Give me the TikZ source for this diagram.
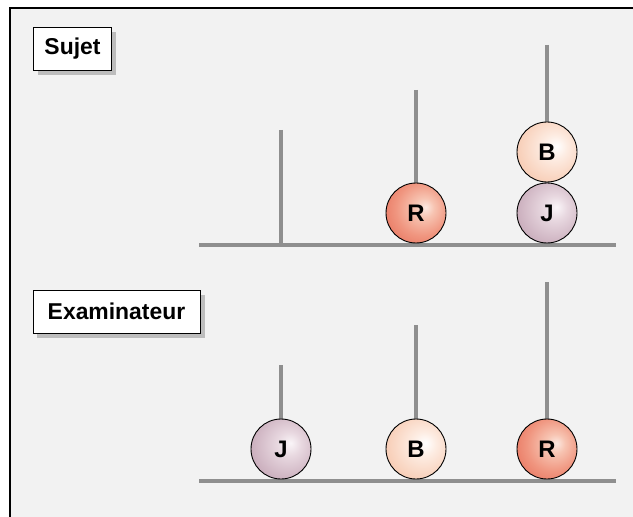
\documentclass[tikz,border=0pt]{standalone}
\usepackage{fontspec}
\setmainfont{Liberation Sans}
\usetikzlibrary{shadows}

\definecolor{panel}{HTML}{F2F2F2}
\definecolor{rodgray}{HTML}{8F8F8F}
\definecolor{shadowgray}{HTML}{BDBDBD}

% radial shadings for the three balls (highlight slightly up and right)
\pgfdeclareradialshading{ballred}{\pgfpoint{8bp}{5bp}}{%
  color(0bp)=(rgb,255:red,252;green,232;blue,224);
  color(8bp)=(rgb,255:red,247;green,196;blue,178);
  color(22bp)=(rgb,255:red,240;green,150;blue,128);
  color(38bp)=(rgb,255:red,230;green,108;blue,86);
  color(52bp)=(rgb,255:red,216;green,78;blue,58);
  color(64bp)=(rgb,255:red,208;green,70;blue,52)}
\pgfdeclareradialshading{ballbeige}{\pgfpoint{8bp}{5bp}}{%
  color(0bp)=(white);
  color(10bp)=(rgb,255:red,253;green,236;blue,226);
  color(28bp)=(rgb,255:red,248;green,208;blue,186);
  color(46bp)=(rgb,255:red,243;green,184;blue,154);
  color(64bp)=(rgb,255:red,236;green,168;blue,136)}
\pgfdeclareradialshading{ballmauve}{\pgfpoint{8bp}{5bp}}{%
  color(0bp)=(rgb,255:red,250;green,245;blue,248);
  color(10bp)=(rgb,255:red,232;green,216;blue,224);
  color(28bp)=(rgb,255:red,205;green,178;blue,192);
  color(46bp)=(rgb,255:red,176;green,142;blue,160);
  color(64bp)=(rgb,255:red,160;green,124;blue,144)}

\tikzset{
  rod/.style={draw=rodgray, line width=4bp},
  ball/.style={circle, draw=black, line width=0.9bp, minimum size=60bp,
    inner sep=0pt, font=\bfseries\fontsize{24}{26}\selectfont},
  red ball/.style={ball, shading=ballred},
  beige ball/.style={ball, shading=ballbeige},
  mauve ball/.style={ball, shading=ballmauve},
  tag/.style={draw=black, fill=white, line width=0.9bp, inner sep=0pt,
    minimum height=43bp, font=\bfseries\fontsize{23}{25}\selectfont,
    drop shadow={shadow xshift=4.5bp, shadow yshift=-4.5bp,
      fill=shadowgray, opacity=1}}
}

\begin{document}
\begin{tikzpicture}[x=1bp, y=-1bp]
  \useasboundingbox (0,0) rectangle (633,517);

  % panel
  \fill[panel] (10,8) rectangle (640,525);
  \draw[black, line width=1.3bp] (10,525) -- (10,8) -- (640,8);

  % labels
  \node[tag, minimum width=78bp] (sujet) at (72.5,49) {Sujet};
  \node[tag, minimum width=167bp] (exam) at (116.5,311.5) {Examinateur};

  % upper stand
  \coordinate (baseL1) at (199,245);
  \coordinate (baseR1) at (616,245);
  \coordinate (topA1) at (281,130);
  \coordinate (topB1) at (416,90);
  \coordinate (topC1) at (547,45);
  \draw[rod] (baseL1) -- (baseR1);
  \draw[rod] (topA1) -- (topA1 |- baseL1);
  \draw[rod] (topB1) -- (topB1 |- baseL1);
  \draw[rod] (topC1) -- (topC1 |- baseL1);

  \node[red ball] (sR) at (416,213) {R};
  \node[mauve ball] (sJ) at (547,213) {J};
  \node[beige ball] (sB) at (547,152) {B};

  % lower stand
  \coordinate (baseL2) at (199,481);
  \coordinate (baseR2) at (616,481);
  \coordinate (topA2) at (281,365);
  \coordinate (topB2) at (416,325);
  \coordinate (topC2) at (547,282);
  \draw[rod] (baseL2) -- (baseR2);
  \draw[rod] (topA2) -- (topA2 |- baseL2);
  \draw[rod] (topB2) -- (topB2 |- baseL2);
  \draw[rod] (topC2) -- (topC2 |- baseL2);

  \node[mauve ball] (eJ) at (281,449) {J};
  \node[beige ball] (eB) at (416,449) {B};
  \node[red ball] (eR) at (547,449) {R};
\end{tikzpicture}
\end{document}
